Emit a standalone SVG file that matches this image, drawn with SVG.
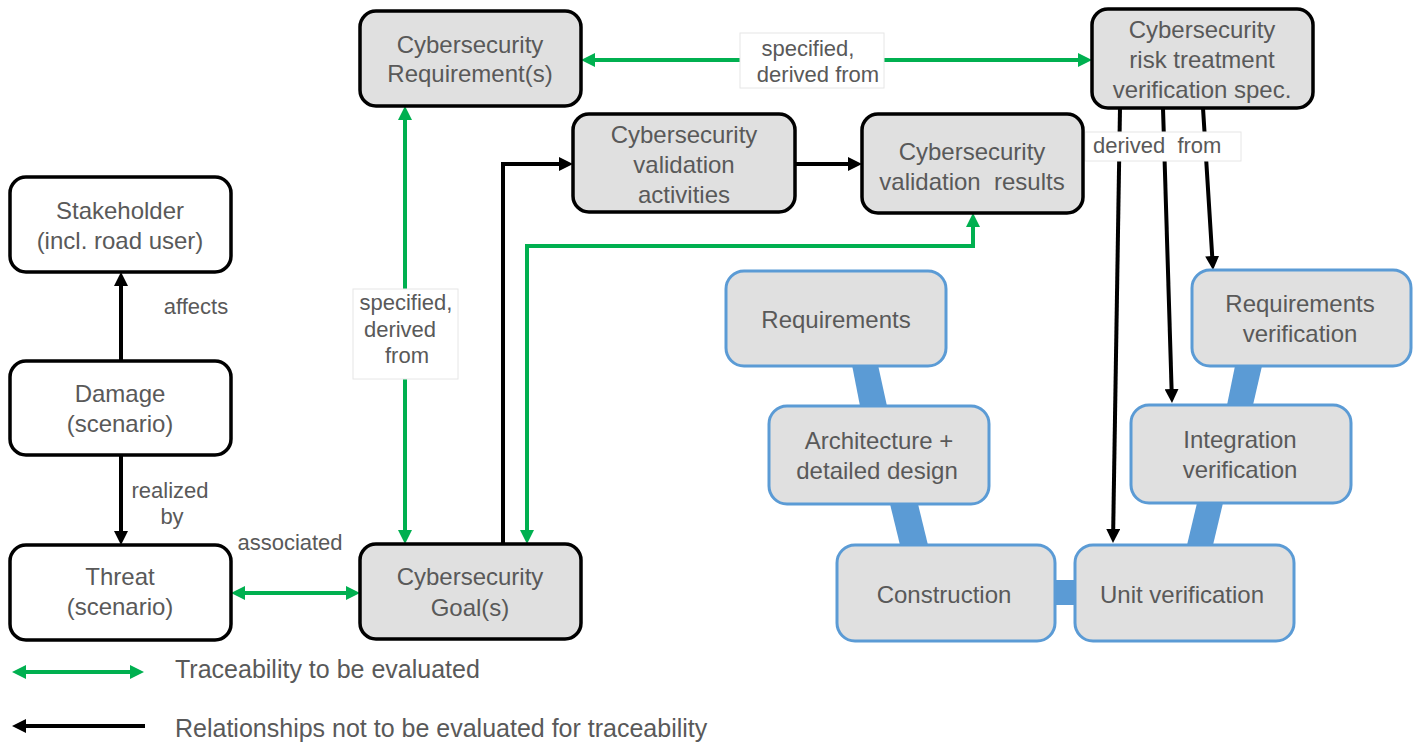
<svg xmlns="http://www.w3.org/2000/svg" width="1421" height="745" viewBox="0 0 1421 745">
<style>
text{font-family:"Liberation Sans",Arial,sans-serif;fill:#595959;text-anchor:middle}
.t{font-size:24px}
.l{font-size:22px}
.lg{font-size:25px;text-anchor:start}
.nb{fill:#fff;stroke:#000;stroke-width:3.5}
.ng{fill:#e0e0e0;stroke:#000;stroke-width:3.5}
.nv{fill:#e0e0e0;stroke:#5b9bd5;stroke-width:3}
.bl{fill:#5b9bd5}
.g{fill:none;stroke:#00b050;stroke-width:4}
.k{fill:none;stroke:#000;stroke-width:4}
.lab{fill:#fff;stroke:#e6e6e6;stroke-width:1}
</style>
<defs>
<marker id="ag" viewBox="0 0 14 14" refX="7" refY="7" markerWidth="14" markerHeight="14" markerUnits="userSpaceOnUse" orient="auto-start-reverse"><path d="M0,0 L14,7 L0,14 z" fill="#00b050"/></marker>
<marker id="ak" viewBox="0 0 14 14" refX="7" refY="7" markerWidth="14" markerHeight="14" markerUnits="userSpaceOnUse" orient="auto-start-reverse"><path d="M0,0 L14,7 L0,14 z" fill="#000"/></marker>
</defs>

<g id="v-links">
<polygon class="bl" points="852,365 878,365 887,406 860,406"/>
<polygon class="bl" points="890,504 918,504 928,545 900,545"/>
<rect class="bl" x="1053" y="580" width="24" height="25"/>
<polygon class="bl" points="1187,545 1213,545 1223,503 1197,503"/>
<polygon class="bl" points="1227,405 1253,405 1262,366 1235,366"/>
</g>

<g id="connectors">
<line class="k" x1="121" y1="361" x2="121" y2="279" marker-end="url(#ak)"/>
<line class="k" x1="121" y1="455" x2="121" y2="538" marker-end="url(#ak)"/>
<line class="g" x1="238" y1="593" x2="353" y2="593" marker-start="url(#ag)" marker-end="url(#ag)"/>
<line class="g" x1="405" y1="113" x2="405" y2="537" marker-start="url(#ag)" marker-end="url(#ag)"/>
<line class="g" x1="588" y1="60" x2="1085" y2="60" marker-start="url(#ag)" marker-end="url(#ag)"/>
<path class="k" d="M503,544 V164 H566" marker-end="url(#ak)"/>
<line class="k" x1="795" y1="164" x2="855" y2="164" marker-end="url(#ak)"/>
<path class="g" d="M527,537 V246 H973 V220" marker-start="url(#ag)" marker-end="url(#ag)"/>
<line class="k" x1="1120" y1="108" x2="1113.1" y2="536" marker-end="url(#ak)"/>
<line class="k" x1="1163" y1="108" x2="1171.8" y2="396" marker-end="url(#ak)"/>
<line class="k" x1="1203" y1="108" x2="1212.6" y2="263" marker-end="url(#ak)"/>
<rect class="lab" x="740" y="33" width="144" height="55"/>
<text class="l" x="808" y="56">specified,</text>
<text class="l" x="818" y="82">derived from</text>
<rect class="lab" x="353" y="289" width="105" height="90"/>
<text class="l" x="406" y="310">specified,</text>
<text class="l" x="400" y="337">derived</text>
<text class="l" x="407" y="363">from</text>
<rect class="lab" x="1085" y="132" width="156" height="29"/>
<text class="l" x="1093" y="153" style="text-anchor:start">derived&#160; from</text>
<text class="l" x="196" y="314">affects</text>
<text class="l" x="170" y="498">realized</text>
<text class="l" x="172" y="524">by</text>
<text class="l" x="290" y="550">associated</text>
</g>

<g id="stakeholder"><rect class="nb" x="10" y="177" width="221" height="95" rx="16"/><text class="t" x="120" y="219">Stakeholder</text><text class="t" x="120" y="249">(incl. road user)</text></g>
<g id="damage"><rect class="nb" x="10" y="361" width="221" height="94" rx="16"/><text class="t" x="120" y="402">Damage</text><text class="t" x="120" y="432">(scenario)</text></g>
<g id="threat"><rect class="nb" x="10" y="545" width="221" height="95" rx="16"/><text class="t" x="120" y="585">Threat</text><text class="t" x="120" y="615">(scenario)</text></g>
<g id="goal"><rect class="ng" x="360" y="544" width="221" height="95" rx="16"/><text class="t" x="470" y="585">Cybersecurity</text><text class="t" x="470" y="616">Goal(s)</text></g>
<g id="requirement"><rect class="ng" x="360" y="11" width="221" height="95" rx="16"/><text class="t" x="470" y="53">Cybersecurity</text><text class="t" x="470" y="82">Requirement(s)</text></g>
<g id="val-activities"><rect class="ng" x="573" y="114" width="222" height="98" rx="16"/><text class="t" x="684" y="143">Cybersecurity</text><text class="t" x="684" y="173">validation</text><text class="t" x="684" y="203">activities</text></g>
<g id="val-results"><rect class="ng" x="862" y="114" width="221" height="99" rx="16"/><text class="t" x="972" y="160">Cybersecurity</text><text class="t" x="972" y="190">validation&#160; results</text></g>
<g id="risk-spec"><rect class="ng" x="1092" y="9" width="221" height="99" rx="16"/><text class="t" x="1202" y="38">Cybersecurity</text><text class="t" x="1202" y="68">risk treatment</text><text class="t" x="1202" y="98">verification spec.</text></g>

<g id="requirements"><rect class="nv" x="726" y="271" width="220" height="95" rx="18"/><text class="t" x="836" y="328">Requirements</text></g>
<g id="architecture"><rect class="nv" x="769" y="406" width="220" height="98" rx="18"/><text class="t" x="879" y="449">Architecture +</text><text class="t" x="877" y="479">detailed design</text></g>
<g id="construction"><rect class="nv" x="837" y="545" width="218" height="96" rx="18"/><text class="t" x="944" y="603">Construction</text></g>
<g id="unit-verification"><rect class="nv" x="1075" y="545" width="219" height="96" rx="18"/><text class="t" x="1182" y="603">Unit verification</text></g>
<g id="integration-verification"><rect class="nv" x="1131" y="405" width="220" height="98" rx="18"/><text class="t" x="1240" y="448">Integration</text><text class="t" x="1240" y="478">verification</text></g>
<g id="requirements-verification"><rect class="nv" x="1192" y="270" width="219" height="96" rx="18"/><text class="t" x="1300" y="312">Requirements</text><text class="t" x="1300" y="342">verification</text></g>

<g id="legend">
<line class="g" x1="19" y1="672" x2="137" y2="672" marker-start="url(#ag)" marker-end="url(#ag)"/>
<line class="k" x1="145" y1="726" x2="19" y2="726" marker-end="url(#ak)"/>
<text class="lg" x="175" y="678">Traceability to be evaluated</text>
<text class="lg" x="175" y="737">Relationships not to be evaluated for traceability</text>
</g>
</svg>
